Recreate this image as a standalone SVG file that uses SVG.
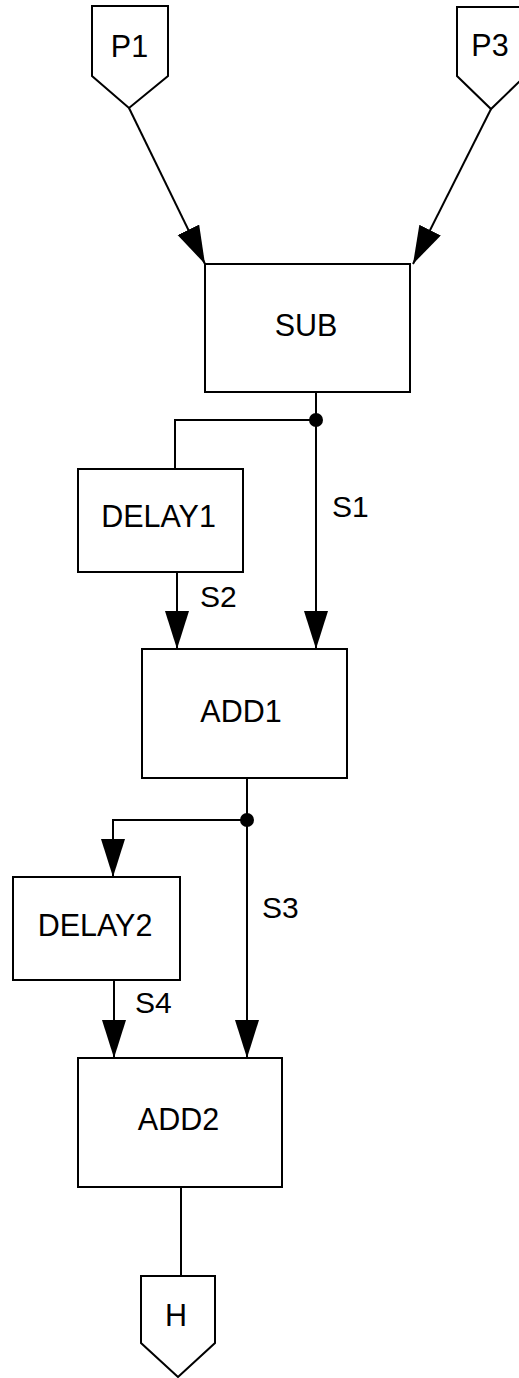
<svg xmlns="http://www.w3.org/2000/svg" width="519" height="1378" viewBox="0 0 519 1378">
<style>
.box{fill:#fff;stroke:#000;stroke-width:2}
.lbl{font-family:"Liberation Sans",Arial,sans-serif;font-size:30.5px;fill:#000;text-anchor:middle}
.sig{font-family:"Liberation Sans",Arial,sans-serif;font-size:30px;fill:#000}
.wire{fill:none;stroke:#000;stroke-width:2}
</style>
<defs>
<marker id="arr" markerUnits="userSpaceOnUse" markerWidth="40" markerHeight="26" refX="38" refY="12" orient="auto">
<path d="M0,0 L38,12 L0,24 z" fill="#000"/>
</marker>
</defs>
<g id="connectors">
<path class="wire" d="M129,108 L205,264" marker-end="url(#arr)"/>
<path class="wire" d="M491,109 L413,264" marker-end="url(#arr)"/>
<path class="wire" d="M316,392 L316,649" marker-end="url(#arr)"/>
<path class="wire" d="M316,420 L175,420 L175,469"/>
<circle cx="316" cy="420" r="7" fill="#000"/>
<path class="wire" d="M177,572 L177,649" marker-end="url(#arr)"/>
<path class="wire" d="M247,778 L247,1058" marker-end="url(#arr)"/>
<path class="wire" d="M247,820 L113,820 L113,877" marker-end="url(#arr)"/>
<circle cx="247" cy="820" r="7" fill="#000"/>
<path class="wire" d="M114,980 L114,1058" marker-end="url(#arr)"/>
<path class="wire" d="M181,1187 L181,1276"/>
<text class="sig" x="332" y="517">S1</text>
<text class="sig" x="200" y="607">S2</text>
<text class="sig" x="262" y="918">S3</text>
<text class="sig" x="135" y="1013">S4</text>
</g>
<g id="P1">
<path class="box" d="M92,6 L168,6 L168,76 L129,108 L92,76 Z"/>
<text class="lbl" x="129.5" y="57">P1</text>
</g>
<g id="P3">
<path class="box" d="M457,7 L525,7 L525,76 L491,109 L457,76 Z"/>
<text class="lbl" x="490" y="56">P3</text>
</g>
<g id="SUB">
<rect class="box" x="205" y="264" width="205" height="128"/>
<text class="lbl" x="306" y="336">SUB</text>
</g>
<g id="DELAY1">
<rect class="box" x="78" y="469" width="165" height="103"/>
<text class="lbl" x="158.5" y="527">DELAY1</text>
</g>
<g id="ADD1">
<rect class="box" x="142" y="649" width="205" height="129"/>
<text class="lbl" x="241" y="722">ADD1</text>
</g>
<g id="DELAY2">
<rect class="box" x="13" y="877" width="167" height="103"/>
<text class="lbl" x="95" y="936">DELAY2</text>
</g>
<g id="ADD2">
<rect class="box" x="78" y="1058" width="204" height="129"/>
<text class="lbl" x="178.5" y="1130">ADD2</text>
</g>
<g id="H">
<path class="box" d="M141,1276 L215,1276 L215,1343 L178,1377 L141,1343 Z"/>
<text class="lbl" x="176" y="1326">H</text>
</g>
</svg>
